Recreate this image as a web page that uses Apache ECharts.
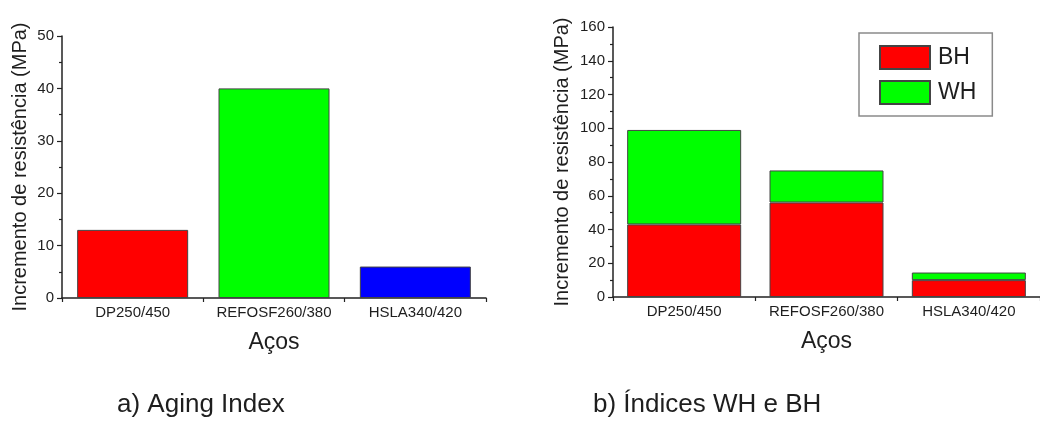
<!DOCTYPE html>
<html>
<head>
<meta charset="utf-8">
<script src="https://cdn.jsdelivr.net/npm/echarts@6/dist/echarts.min.js"></script>
<style>
html,body{margin:0;padding:0;background:#fff;}
#chart{width:1040px;height:421px;}
</style>
</head>
<body>
<div id="chart"></div>
<script>
const categories = ['DP250/450', 'REFOSF260/380', 'HSLA340/420'];
const agingIndex = [13, 40, 6];
const agingColors = ['#ff0000', '#00ff00', '#0000ff'];
const bhValues = [43, 56, 10];
const whValues = [56, 19, 4.5];
const leftTicks = {min: 0, max: 50, interval: 10};
const rightTicks = {min: 0, max: 160, interval: 20};
const yTitle = 'Incremento de resistência (MPa)';
const xTitle = 'Aços';
const captionA = 'a) Aging Index';
const captionB = 'b) Índices WH e BH';

const FONT = 'Liberation Sans, Arial, sans-serif';
const TXT = '#1e1e1e';
const AX = '#222';

function xAxisCfg(gridIndex) {
  return {
    type: 'category', gridIndex: gridIndex, data: categories,
    name: xTitle, nameLocation: 'middle', nameGap: 33,
    nameTextStyle: {fontFamily: FONT, fontSize: 23, color: TXT},
    axisLine: {lineStyle: {color: AX, width: 1.5}},
    axisTick: {show: true, length: 4, lineStyle: {color: AX, width: 1.2}},
    axisLabel: {interval: 0, fontFamily: FONT, fontSize: 15, color: TXT, margin: 7},
    splitLine: {show: false}
  };
}
function yAxisCfg(gridIndex, ticks, gap) {
  return {
    type: 'value', gridIndex: gridIndex, min: ticks.min, max: ticks.max, interval: ticks.interval,
    name: yTitle, nameLocation: 'middle', nameGap: gap,
    nameTextStyle: {fontFamily: FONT, fontSize: 20, color: TXT},
    axisLine: {show: true, lineStyle: {color: AX, width: 1.5}},
    axisTick: {show: true, length: 5, lineStyle: {color: AX, width: 1.2}},
    minorTick: {show: true, splitNumber: 2, length: 3, lineStyle: {color: AX, width: 1.2}},
    axisLabel: {fontFamily: FONT, fontSize: 15, color: TXT, margin: 8},
    splitLine: {show: false}
  };
}

const chart = echarts.init(document.getElementById('chart'), null, {renderer: 'canvas'});
chart.setOption({
  animation: false,
  backgroundColor: '#fff',
  grid: [
    {left: 62, top: 36, width: 424, height: 262},
    {left: 613, top: 27, width: 435, height: 270}
  ],
  xAxis: [xAxisCfg(0), xAxisCfg(1)],
  yAxis: [yAxisCfg(0, leftTicks, 32), yAxisCfg(1, rightTicks, 41)],
  legend: {
    data: ['BH', 'WH'],
    icon: 'rect',
    orient: 'vertical', left: 859, top: 33,
    padding: [12, 16, 11, 20],
    itemWidth: 50, itemHeight: 23, itemGap: 10,
    borderColor: '#8a8a8a', borderWidth: 1.5,
    textStyle: {fontFamily: FONT, fontSize: 23, color: TXT, padding: [0, 0, 0, 3]}
  },
  series: [
    {
      type: 'bar', xAxisIndex: 0, yAxisIndex: 0, barWidth: 111,
      data: agingIndex.map((v, i) => ({value: v, itemStyle: {color: agingColors[i]}})),
      itemStyle: {borderColor: '#444', borderWidth: 1}
    },
    {
      name: 'BH', type: 'bar', xAxisIndex: 1, yAxisIndex: 1, stack: 'total', barWidth: 114,
      data: bhValues, itemStyle: {color: '#ff0000', borderColor: '#444', borderWidth: 1}
    },
    {
      name: 'WH', type: 'bar', xAxisIndex: 1, yAxisIndex: 1, stack: 'total', barWidth: 114,
      data: whValues, itemStyle: {color: '#00ff00', borderColor: '#444', borderWidth: 1}
    }
  ],
  graphic: [
    {type: 'text', left: 117, top: 392, style: {text: captionA, fontFamily: FONT, fontSize: 26, fill: TXT}},
    {type: 'text', left: 593, top: 392, style: {text: captionB, fontFamily: FONT, fontSize: 26, fill: TXT}}
  ]
});
</script>
</body>
</html>
